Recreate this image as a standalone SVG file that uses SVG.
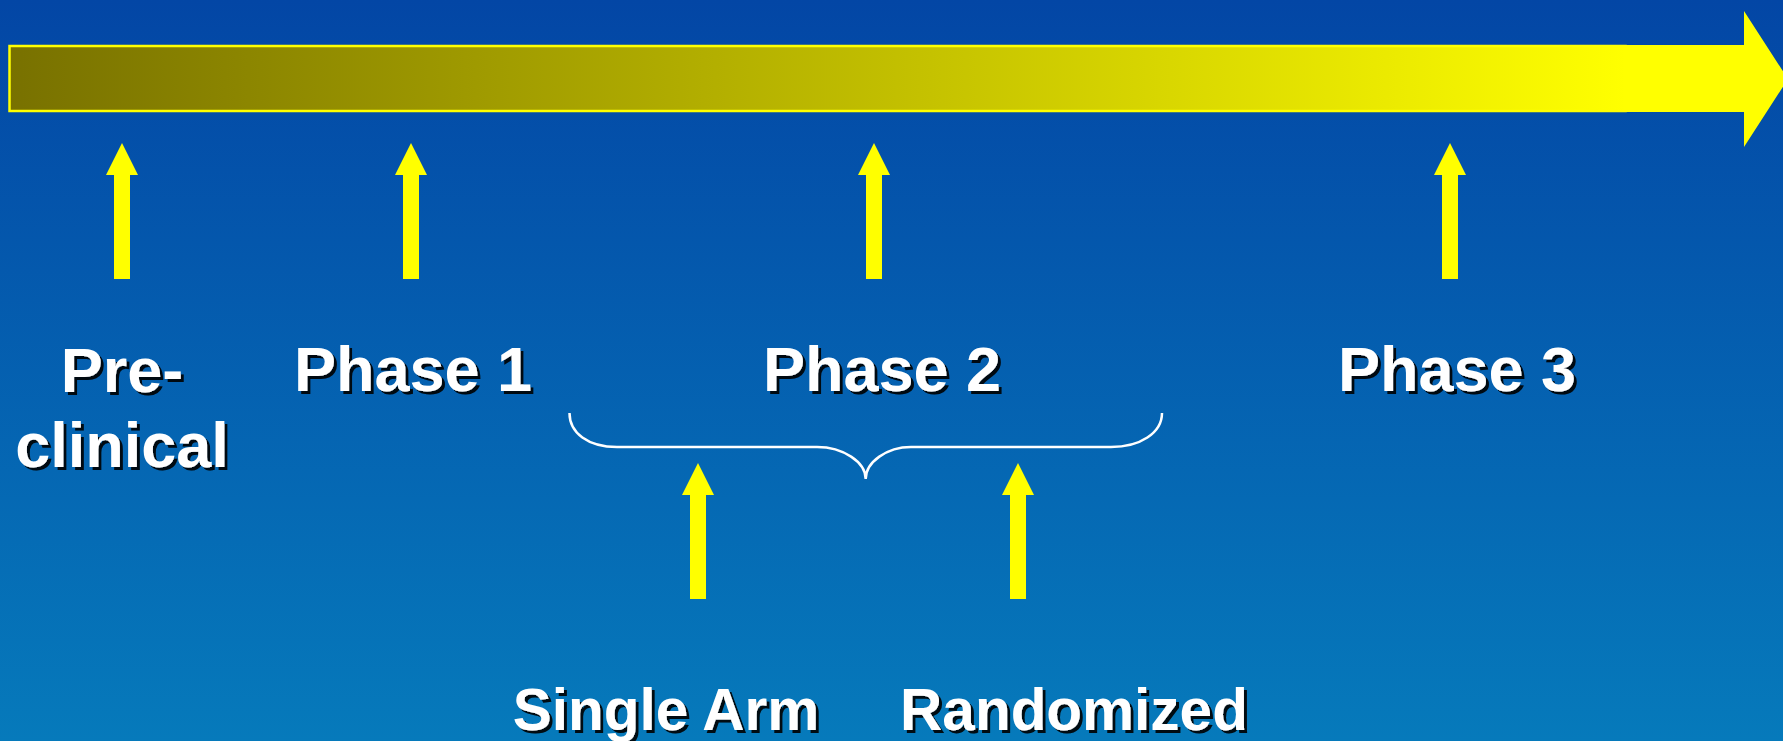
<svg xmlns="http://www.w3.org/2000/svg" width="1783" height="741" viewBox="0 0 1783 741">
  <defs>
    <linearGradient id="bg" x1="0" y1="0" x2="0" y2="1">
      <stop offset="0" stop-color="#0346A5"/>
      <stop offset="1" stop-color="#067ABB"/>
    </linearGradient>
    <linearGradient id="bar" x1="0" y1="0" x2="1" y2="0">
      <stop offset="0" stop-color="#787100"/>
      <stop offset="1" stop-color="#FFFF00"/>
    </linearGradient>
    <filter id="shadow" x="-10%" y="-20%" width="130%" height="150%">
      <feDropShadow dx="3" dy="3" stdDeviation="0.6" flood-color="#000" flood-opacity="0.9"/>
    </filter>
  </defs>
  <style>
    .lbl { font-family: "Liberation Sans", Arial, sans-serif; font-weight: bold; fill: #FFFFFF; text-anchor: middle; filter: url(#shadow); }
    .big { font-size: 63px; }
    .small { font-size: 58.5px; }
    .arr { fill: #FFFF00; }
    .brace { fill: none; stroke: #FFFFFF; stroke-width: 2.5; }
  </style>
  <rect x="0" y="0" width="1783" height="741" fill="url(#bg)"/>

  <g id="timeline">
    <polygon class="arr" points="1610,45 1744,45 1744,11 1788,79 1744,147 1744,112 1610,112"/>
    <rect x="9.5" y="46" width="1616" height="65" fill="url(#bar)" stroke="#FFFF00" stroke-width="2.5"/>
  </g>

  <g id="connectors">
    <polygon id="arrow-preclinical" class="arr" points="122,143 138,175 130,175 130,279 114,279 114,175 106,175"/>
    <polygon id="arrow-phase1" class="arr" points="411,143 427,175 419,175 419,279 403,279 403,175 395,175"/>
    <polygon id="arrow-phase2" class="arr" points="874,143 890,175 882,175 882,279 866,279 866,175 858,175"/>
    <polygon id="arrow-phase3" class="arr" points="1450,143 1466,175 1458,175 1458,279 1442,279 1442,175 1434,175"/>
    <polygon id="arrow-single" class="arr" points="698,463 714,495 706,495 706,599 690,599 690,495 682,495"/>
    <polygon id="arrow-random" class="arr" points="1018,463 1034,495 1026,495 1026,599 1010,599 1010,495 1002,495"/>
    <path id="brace" class="brace" d="M569.5,413 C569.5,433 588,447 617,447 L817,447 C843,447 865.7,462 865.7,479 C865.7,462 887,447 911,447 L1111,447 C1140,447 1162,433 1162,413"/>
  </g>

  <g id="node-preclinical">
    <text class="lbl big" x="122" y="392">Pre-</text>
    <text class="lbl big" x="122" y="467">clinical</text>
  </g>
  <g id="node-phase1">
    <text class="lbl big" x="413" y="391">Phase 1</text>
  </g>
  <g id="node-phase2">
    <text class="lbl big" x="882" y="391">Phase 2</text>
  </g>
  <g id="node-phase3">
    <text class="lbl big" x="1457" y="391">Phase 3</text>
  </g>
  <g id="node-single">
    <text class="lbl small" x="666" y="730">Single Arm</text>
  </g>
  <g id="node-random">
    <text class="lbl small" x="1074" y="730">Randomized</text>
  </g>
</svg>
